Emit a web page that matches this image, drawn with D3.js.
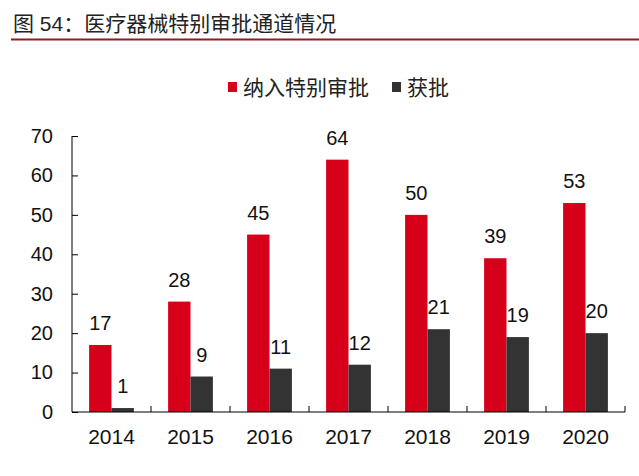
<!DOCTYPE html>
<html><head><meta charset="utf-8">
<script src="https://cdn.jsdelivr.net/npm/d3@7"></script>
<style>body{margin:0;background:#fff}svg{display:block}text{font-family:Arial,"Liberation Sans","Noto Sans CJK SC",sans-serif}</style>
</head><body><svg id="c" width="639" height="476"></svg>
<script>
const title = "图 54：医疗器械特别审批通道情况";
const years = ["2014","2015","2016","2017","2018","2019","2020"];
const seriesNames = ["纳入特别审批","获批"];
const included = [17,28,45,64,50,39,53];
const approved = [1,9,11,12,21,19,20];
const yTicks = [0,10,20,30,40,50,60,70];
const colors = ["#D7001A","#333333"];

const svg = d3.select("#c");
const m = {l:72, r:14, t:136, b:64};
const W = 639, H = 476;
const x = d3.scaleBand().domain(years).range([m.l, W - m.r]).paddingInner(0).paddingOuter(0);
const y = d3.scaleLinear().domain([0,70]).range([H - m.b, m.t]);
const bw = 22.4;

// title
svg.append("text").attr("x",13).attr("y",31).attr("font-size",21).attr("fill","#222")
  .attr("font-family","'Noto Sans CJK SC',sans-serif").text(title);
svg.append("line").attr("x1",11).attr("x2",639).attr("y1",39.5).attr("y2",39.5)
  .attr("stroke","#8B1E1E").attr("stroke-width",2);

// legend
const lg = svg.append("g").attr("font-family","'Noto Sans CJK SC',sans-serif");
const legendItems = [{x:228, name:seriesNames[0], c:colors[0]},{x:392, name:seriesNames[1], c:colors[1]}];
legendItems.forEach(d=>{
  lg.append("rect").attr("x",d.x).attr("y",82).attr("width",9).attr("height",10).attr("fill",d.c);
  lg.append("text").attr("x",d.x+15).attr("y",95).attr("font-size",21).attr("fill","#222").text(d.name);
});

// bars
const data = years.map((yr,i)=>({yr, v:[included[i], approved[i]]}));
const g = svg.append("g");
data.forEach(d=>{
  const cx = x(d.yr) + x.bandwidth()/2;
  d.v.forEach((v,k)=>{
    const bx = cx - bw + k*bw;
    g.append("rect").attr("x",bx).attr("y",y(v)).attr("width",bw).attr("height",y(0)-y(v)).attr("fill",colors[k]);
    g.append("text").attr("x",bx+bw/2).attr("y",y(v)-15).attr("text-anchor","middle")
      .attr("font-size",20).attr("fill","#111").text(v);
  });
});

// y axis
const ya = svg.append("g").attr("transform",`translate(${m.l},0)`)
  .call(d3.axisLeft(y).tickValues(yTicks).tickSize(-6).tickPadding(19));
ya.select(".domain").attr("stroke","#000").attr("d",`M0,${y(70)}V${y(0)}`);
ya.selectAll(".tick line").attr("stroke","#000");
ya.selectAll(".tick text").attr("font-size",20).attr("fill","#111").attr("font-family","Arial,'Liberation Sans',sans-serif");

// x axis
const xa = svg.append("g").attr("transform",`translate(0,${y(0)})`)
  .call(d3.axisBottom(x).tickSize(0).tickPadding(17));
xa.select(".domain").attr("stroke","#000").attr("d",`M${m.l},0H${W-m.r}`);
xa.selectAll(".tick text").attr("font-size",21).attr("fill","#111").attr("font-family","Arial,'Liberation Sans',sans-serif");
const bounds = years.map(yr=>x(yr)+x.bandwidth());
svg.append("g").selectAll("line").data(bounds).join("line")
  .attr("x1",d=>d).attr("x2",d=>d).attr("y1",y(0)-6).attr("y2",y(0)).attr("stroke","#000");
</script></body></html>
